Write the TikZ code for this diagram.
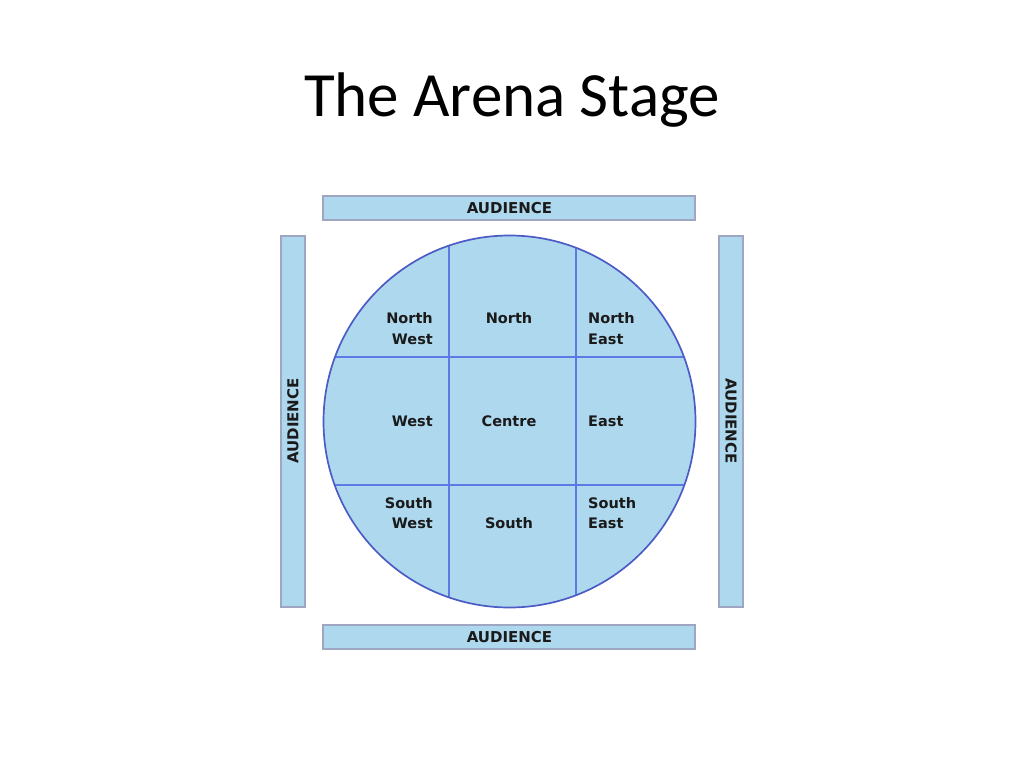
\documentclass[tikz,border=0pt]{standalone}
\usepackage{fontspec}
\setmainfont{Carlito}
\newfontfamily\labelfont{DejaVu Sans}
\definecolor{stagefill}{HTML}{ADD8EE}
\definecolor{rimblue}{HTML}{4D5CC4}
\definecolor{gridblue}{HTML}{5C7AE6}
\definecolor{barline}{HTML}{9FA6C2}
\definecolor{inkdark}{HTML}{1A1A1A}
\tikzset{
  bar/.style={fill=stagefill, draw=barline, line width=1.3pt},
  cell/.style={font=\labelfont\bfseries\fontsize{14.5}{20.5}\selectfont, text=inkdark, inner sep=0pt},
  audtext/.style={font=\labelfont\bfseries\fontsize{15}{18}\selectfont, text=inkdark, inner sep=0pt},
}
\begin{document}
\begin{tikzpicture}[x=1pt,y=-1pt]
\useasboundingbox (0,0) rectangle (1024,768);
\node[font=\fontsize{63}{70}\selectfont, anchor=base, inner sep=0pt] (title) at (512,116) {The Arena Stage};
% audience bars
\draw[bar] (323,196) rectangle (695,220);
\draw[bar] (323,625) rectangle (695,649);
\draw[bar] (281,236) rectangle (305,607);
\draw[bar] (719,236) rectangle (743,607);
\node[audtext] (audtop) at (509.5,208.5) {AUDIENCE};
\node[audtext] (audbot) at (509.5,637.5) {AUDIENCE};
\node[audtext, rotate=90] (audleft) at (293,421) {AUDIENCE};
\node[audtext, rotate=-90] (audright) at (731,421) {AUDIENCE};
% stage
\coordinate (c) at (509.5,421.5);
\fill[stagefill] (c) circle (186);
\begin{scope}
\clip (c) circle (186);
\draw[gridblue, line width=1.8pt] (449,200) -- (449,640);
\draw[gridblue, line width=1.8pt] (576,200) -- (576,640);
\draw[gridblue, line width=1.8pt] (300,357) -- (720,357);
\draw[gridblue, line width=1.8pt] (300,485) -- (720,485);
\end{scope}
\draw[rimblue, line width=1.7pt] (c) circle (186);
% cell labels
\node[cell, anchor=east, align=right] (nw) at (433,328.5) {North\\West};
\node[cell] (n) at (509,318) {North};
\node[cell, anchor=west, align=left] (ne) at (588,328.5) {North\\East};
\node[cell, anchor=east] (w) at (433,421) {West};
\node[cell] (ctr) at (509,421) {Centre};
\node[cell, anchor=west] (e) at (588,421) {East};
\node[cell, anchor=east, align=right] (sw) at (433,513) {South\\West};
\node[cell] (s) at (509,523) {South};
\node[cell, anchor=west, align=left] (se) at (588,513) {South\\East};
\end{tikzpicture}
\end{document}
